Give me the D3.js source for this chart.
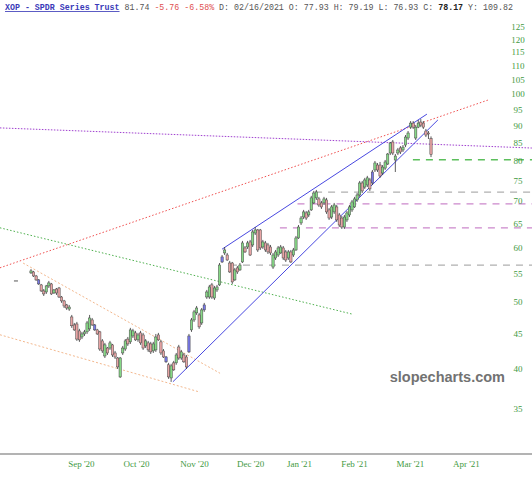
<!DOCTYPE html>
<html><head><meta charset="utf-8">
<script src="https://cdn.jsdelivr.net/npm/d3@7"></script>
<style>body{margin:0;background:#fff} svg{display:block}</style>
</head><body><svg id="c" width="532" height="480"></svg>
<script>
// ---------- DATA ----------
const opens=[55.06,55.24,54.50,53.79,52.90,51.85,51.67,52.72,53.07,51.50,52.18,52.36,50.81,50.15,49.48,48.81,47.54,46.29,46.44,45.38,44.47,44.92,45.23,45.69,47.07,46.29,45.53,45.23,43.89,41.74,42.86,42.86,43.31,42.16,41.46,38.92,42.16,42.72,44.16,43.75,44.62,45.08,44.04,45.08,44.77,43.16,43.60,43.45,42.45,42.59,44.77,43.75,42.45,41.60,40.53,38.79,40.79,40.79,43.01,41.46,41.88,41.60,42.31,45.53,47.07,48.19,47.86,46.60,48.67,50.81,50.81,52.90,50.64,52.02,52.90,57.11,58.85,58.45,56.91,56.91,53.79,55.98,55.61,57.11,59.84,60.03,61.05,60.44,62.90,63.54,63.54,60.03,60.85,60.44,60.03,56.15,57.87,58.45,58.85,59.84,59.05,57.87,59.05,58.45,59.44,61.87,65.04,66.34,67.25,66.80,67.93,69.53,70.71,70.47,69.53,69.53,70.23,67.93,66.34,67.48,68.61,66.80,66.12,64.17,65.70,66.80,67.93,68.61,70.23,71.40,74.32,73.32,73.82,75.07,74.32,77.61,78.90,78.90,76.83,78.10,79.17,82.13,85.20,80.24,82.13,83.53,82.96,84.34,86.34,89.53,90.75,86.34,89.53,91.06,90.75,88.38,87.79,86.20];
const highs=[55.76,55.43,54.69,53.94,53.07,52.18,52.90,53.61,53.25,52.18,52.36,52.54,50.98,50.32,49.65,49.48,47.86,46.60,46.76,45.69,45.23,45.53,46.91,47.86,47.38,46.44,45.69,45.38,44.16,43.60,43.01,43.89,43.45,42.45,41.60,41.60,43.16,44.16,44.47,45.84,45.69,45.38,45.08,45.38,45.08,44.16,43.89,43.75,43.75,44.92,45.08,44.04,42.72,41.74,40.79,40.66,41.06,42.16,43.31,42.59,42.16,41.88,44.92,47.38,48.67,49.31,48.19,48.98,49.82,52.02,52.90,53.25,52.72,52.90,56.91,58.45,60.02,58.85,57.30,57.11,55.98,56.34,56.91,61.26,60.23,61.26,61.46,63.54,64.17,63.75,63.75,61.46,61.26,60.85,60.44,58.85,59.44,60.23,60.44,60.23,59.44,59.44,59.44,59.84,62.28,64.60,66.57,67.93,67.70,67.93,71.19,72.37,72.61,70.95,70.00,70.95,70.71,68.38,69.06,69.53,69.06,67.25,66.57,66.80,67.70,69.06,70.23,70.95,71.88,74.82,74.82,75.59,76.10,75.59,77.61,79.97,79.44,79.71,78.90,80.24,82.13,85.20,85.77,81.85,83.53,84.05,84.34,87.20,88.38,91.36,91.36,90.14,91.67,91.97,91.36,88.99,88.38,86.80];
const lows=[54.87,54.31,53.61,52.90,51.67,50.98,51.33,52.36,51.16,51.33,51.16,50.64,49.82,48.98,48.67,48.51,45.84,45.38,43.89,43.75,44.16,44.62,44.92,45.38,46.13,45.38,44.77,42.45,42.16,41.46,41.88,42.59,41.60,41.33,39.97,38.79,41.88,42.45,43.16,43.45,44.32,43.89,43.75,43.31,42.59,42.86,42.31,42.02,42.16,42.31,43.89,41.88,41.46,40.79,38.67,38.28,39.72,40.53,41.20,41.20,40.79,39.97,42.16,45.23,46.76,47.86,45.69,46.29,48.35,50.49,50.49,50.49,50.32,51.67,52.72,56.91,58.45,57.30,55.06,53.07,53.61,54.87,55.43,56.91,58.85,59.64,58.25,60.03,62.48,59.05,59.44,59.64,59.05,58.65,58.45,55.80,57.49,58.07,58.65,57.49,57.11,57.49,56.91,58.07,59.25,61.67,64.60,65.89,65.70,66.34,67.70,69.29,70.23,68.61,68.16,69.06,67.03,65.70,65.89,67.03,65.26,64.17,63.75,63.75,65.26,66.34,67.48,68.38,69.76,70.95,71.88,72.86,73.32,72.37,73.82,77.09,77.09,75.59,76.32,77.61,78.90,81.57,81.57,77.09,81.57,81.85,82.41,83.76,85.77,88.99,88.99,85.77,89.23,89.53,88.99,86.62,86.05,81.02];
const closes=[55.43,54.50,53.79,53.07,51.85,51.33,52.72,53.25,51.33,52.02,51.50,50.81,50.15,49.31,48.98,49.14,46.16,45.53,44.16,44.04,44.92,45.23,46.60,47.38,46.29,45.53,44.92,42.72,42.45,43.31,42.16,43.60,41.88,41.60,40.24,41.46,42.86,43.89,43.45,45.53,45.38,44.04,44.77,43.60,42.86,43.89,42.59,42.31,43.45,44.47,44.04,42.16,41.60,40.93,38.92,40.38,39.85,41.88,41.46,42.31,40.93,40.24,44.62,47.07,48.35,48.98,45.99,48.67,49.48,51.67,52.54,50.81,52.36,52.54,56.53,58.07,59.44,57.49,55.24,53.43,55.61,55.24,56.53,60.85,59.05,60.85,58.45,63.12,63.54,59.44,59.84,61.05,59.44,59.05,58.85,58.45,59.05,59.84,60.03,57.87,57.49,59.05,57.11,59.44,61.87,64.17,66.12,67.48,66.12,67.48,70.71,71.88,72.13,69.06,68.61,70.47,67.48,66.12,68.61,69.06,65.70,64.60,64.17,66.34,67.25,68.61,69.76,70.47,71.40,74.32,72.37,75.07,75.59,72.86,77.09,79.44,77.61,76.06,78.37,79.71,81.85,84.91,82.13,81.30,82.96,82.41,83.76,86.62,87.79,90.75,89.53,89.53,90.75,90.14,89.53,87.20,87.50,81.74];
const blueIdx=[3,25,53,62,68,75,134];

const yTicks=[35,40,45,50,55,60,65,70,75,80,85,90,95,100,105,110,115,120,125];
const monthLabels=["Sep '20","Oct '20","Nov '20","Dec '20","Jan '21","Feb '21","Mar '21","Apr '21"];
const monthIdx=[19.6,41.2,64.0,86.0,105.2,126.8,148.7,170.7];

// drawn studies: [index0, price0, index1, price1]
const purpleDotted=[-12.2,89.3,196.6,83.5];
const redDotted=[-12.2,56.0,179.4,98.0];
const greenDotted=[-12.2,64.0,126.0,48.0];
const orangeUpper=[-3.1,56.9,74.2,39.4];
const orangeLower=[-12.2,44.8,66.3,37.0];
const blueLower=[55.7,38.3,159.7,91.7];
const blueUpper=[75.0,59.6,155.4,93.5];
const levelPrices=[80.3,72.1,69.3,64.0,56.5];
const levelStarts=[149.9,111.5,104.6,97.7,78.1];
const levelKinds=["green","gray","purple","purple","gray"];
const markerPt=[-5.9,53.6];

// ---------- CHART ----------
const W=532,H=480;
const svg=d3.select("#c");
const x=d3.scaleLinear().domain([0,closes.length-1]).range([31,431]);
const y=d3.scaleLog().domain([30.1,136.8]).range([454,0]);
const xEnd=x.invert(W);

function seg(arr,color,dash,width){
  svg.append("line").attr("x1",x(arr[0])).attr("y1",y(arr[1]))
    .attr("x2",x(arr[2])).attr("y2",y(arr[3]))
    .attr("stroke",color).attr("stroke-width",width||1)
    .attr("stroke-dasharray",dash||null);
}
seg(orangeUpper,"#f3b88e","2,2",1);
seg(orangeLower,"#f3b88e","2,2",1);
seg(greenDotted,"#4caf4c","1.5,2",1);
seg(redDotted,"#f05050","1.5,2",1);
seg(purpleDotted,"#a040d0","1.5,1.5",1);

const levelColor={green:"#5cbf5c",gray:"#b0b0b0",purple:"#cc88cc"};
levelPrices.forEach((p,i)=>{
  svg.append("line").attr("x1",x(levelStarts[i])).attr("x2",x(xEnd))
    .attr("y1",y(p)).attr("y2",y(p))
    .attr("stroke",levelColor[levelKinds[i]]).attr("stroke-width",1.3)
    .attr("stroke-dasharray","7,6");
});

seg(blueLower,"#4848e0",null,1);
seg(blueUpper,"#4848e0",null,1);

svg.append("line").attr("x1",x(markerPt[0])-2).attr("x2",x(markerPt[0])+2)
  .attr("y1",y(markerPt[1])).attr("y2",y(markerPt[1])).attr("stroke","#555").attr("stroke-width",1);

// candles
const bw=2.3;
const idx=d3.range(closes.length);
const g=svg.append("g");
g.selectAll("line.w").data(idx).join("line").attr("class","w")
  .attr("x1",i=>x(i)).attr("x2",i=>x(i))
  .attr("y1",i=>y(highs[i])).attr("y2",i=>y(lows[i]))
  .attr("stroke","#333").attr("stroke-width",0.8);
g.selectAll("rect").data(idx).join("rect")
  .attr("x",i=>x(i)-bw/2).attr("width",bw)
  .attr("y",i=>y(Math.max(opens[i],closes[i])))
  .attr("height",i=>Math.max(0.8,Math.abs(y(opens[i])-y(closes[i]))))
  .attr("fill",i=>blueIdx.includes(i)?"#7878e8":(closes[i]>=opens[i]?"#86d886":"#e8a4a4"))
  .attr("stroke","#444").attr("stroke-width",0.5);

// right axis
const ya=svg.append("g").attr("transform","translate(518,0)")
  .call(d3.axisRight(y).tickValues(yTicks).tickSize(0).tickPadding(0).tickFormat(d3.format("d")));
ya.select(".domain").remove();
ya.selectAll("text").attr("text-anchor","middle").attr("fill","#3f9a3f")
  .style("font-family","'Liberation Serif',serif").style("font-size","9px");

// bottom axis
svg.append("line").attr("x1",0).attr("x2",W).attr("y1",454).attr("y2",454)
  .attr("stroke","#9a9a9a").attr("stroke-width",1.5);
const xa=svg.append("g").attr("transform","translate(0,461)")
  .call(d3.axisBottom(x).tickValues(monthIdx).tickSize(0).tickPadding(0).tickFormat((d,i)=>monthLabels[i]));
xa.select(".domain").remove();
xa.selectAll("text").attr("fill","#3f9a3f")
  .style("font-family","'Liberation Serif',serif").style("font-size","9px");

// watermark
svg.append("text").attr("x",505).attr("y",382).attr("text-anchor","end")
  .attr("fill","#727272").style("font-family","'Liberation Sans',Arial,sans-serif")
  .style("font-weight","bold").style("font-size","14.5px").text("slopecharts.com");

// header
const hdr=svg.append("text").attr("x",5).attr("y",10)
  .style("font-family","'Liberation Mono',monospace").style("font-size","8.3px").attr("fill","#555");
hdr.append("tspan").attr("fill","#3a3ab8").style("font-weight","bold").style("text-decoration","underline").text("XOP - SPDR Series Trust");
hdr.append("tspan").text(" 81.74 ");
hdr.append("tspan").attr("fill","#e05050").text("-5.76 -6.58%");
hdr.append("tspan").text(" D: 02/16/2021 O: 77.93 H: 79.19 L: 76.93 C: ");
hdr.append("tspan").attr("fill","#222").style("font-weight","bold").text("78.17");
hdr.append("tspan").text(" Y: 109.82");
</script></body></html>
